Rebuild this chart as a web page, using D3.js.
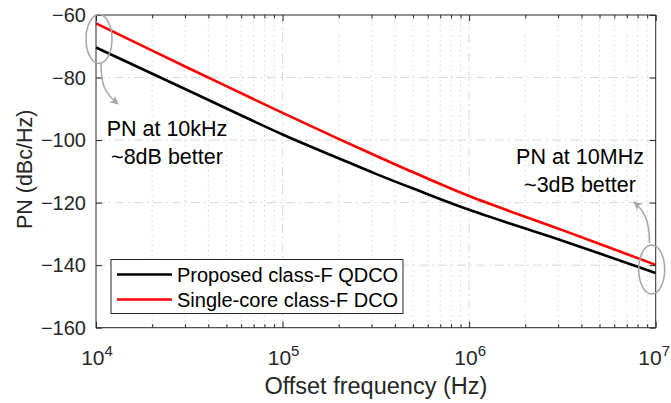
<!DOCTYPE html>
<html>
<head>
<meta charset="utf-8">
<script src="https://cdn.jsdelivr.net/npm/d3@7"></script>
<style>
  body { margin: 0; background: #fff; }
  svg { display: block; font-family: "Liberation Sans", Arial, sans-serif; }
</style>
</head>
<body>
<svg width="671" height="403"></svg>
<script>
// values
var freqs = [10000, 31623, 100000, 199526, 316228, 501187, 1000000, 3162278, 10000000];
var pnProposed = [-70.4, -84.3, -98.2, -105.8, -110.8, -115.5, -122.3, -132.2, -142.5];
var pnSingle = [-62.7, -77.1, -91.3, -99.6, -105.0, -110.3, -117.9, -128.8, -139.9];
var seriesNames = ["Proposed class-F QDCO", "Single-core class-F DCO"];
var seriesColors = ["#000000", "#ff0000"];
var xMajor = [1e4, 1e5, 1e6, 1e7],
    xExponents = ["4", "5", "6", "7"];
var yTicks = [-60, -80, -100, -120, -140, -160];

var svg = d3.select("svg"),
    margin = {top: 15, right: 15.3, bottom: 75.3, left: 96},
    width = +svg.attr("width"),
    height = +svg.attr("height"),
    x0 = margin.left, x1 = width - margin.right,
    y0 = margin.top, y1 = height - margin.bottom;

var x = d3.scaleLog().domain([1e4, 1e7]).range([x0, x1]),
    y = d3.scaleLinear().domain([-160, -60]).range([y1, y0]);

// minor decade values 2..9
var xMinor = [];
xMajor.slice(0, -1).forEach(function(d) {
    for (var k = 2; k < 10; k++) xMinor.push(d * k);
});

var axisColor = "#262626";

// grid
var grid = svg.append("g");
grid.selectAll(".minorx").data(xMinor).enter().append("line")
    .attr("x1", x).attr("x2", x).attr("y1", y0).attr("y2", y1)
    .attr("stroke", "#d4d4d4").attr("stroke-width", 1)
    .attr("stroke-dasharray", "1.5,3.5");
grid.selectAll(".majorx").data(xMajor.slice(1, -1)).enter().append("line")
    .attr("x1", x).attr("x2", x).attr("y1", y0).attr("y2", y1)
    .attr("stroke", "#d8d8d8").attr("stroke-width", 1)
    .attr("stroke-dasharray", "9,4,2,4");
grid.selectAll(".majory").data(yTicks.slice(1, -1)).enter().append("line")
    .attr("x1", x0).attr("x2", x1).attr("y1", y).attr("y2", y)
    .attr("stroke", "#d8d8d8").attr("stroke-width", 1)
    .attr("stroke-dasharray", "9,4,2,4");

// curves
var line = d3.line()
    .x(function(d) { return x(d[0]); })
    .y(function(d) { return y(d[1]); })
    .curve(d3.curveCatmullRom.alpha(0.5));

[pnProposed, pnSingle].forEach(function(vals, i) {
    svg.append("path")
        .datum(freqs.map(function(f, j) { return [f, vals[j]]; }))
        .attr("fill", "none")
        .attr("stroke", seriesColors[i])
        .attr("stroke-width", 2.6)
        .attr("d", line);
});

// axes with inward ticks on all four sides
function strip(g) { g.select(".domain").remove(); g.selectAll("text").remove(); g.selectAll("line").attr("stroke", axisColor); }

svg.append("g").attr("transform", "translate(0," + y1 + ")")
    .call(d3.axisBottom(x).tickValues(xMajor).tickSize(-6).tickFormat("")).call(strip);
svg.append("g").attr("transform", "translate(0," + y1 + ")")
    .call(d3.axisBottom(x).tickValues(xMinor).tickSize(-3.5).tickFormat("")).call(strip);
svg.append("g").attr("transform", "translate(0," + y0 + ")")
    .call(d3.axisTop(x).tickValues(xMajor).tickSize(-6).tickFormat("")).call(strip);
svg.append("g").attr("transform", "translate(0," + y0 + ")")
    .call(d3.axisTop(x).tickValues(xMinor).tickSize(-3.5).tickFormat("")).call(strip);
svg.append("g").attr("transform", "translate(" + x0 + ",0)")
    .call(d3.axisLeft(y).tickValues(yTicks).tickSize(-6).tickFormat("")).call(strip);
svg.append("g").attr("transform", "translate(" + x1 + ",0)")
    .call(d3.axisRight(y).tickValues(yTicks).tickSize(-6).tickFormat("")).call(strip);

svg.append("rect")
    .attr("x", x0).attr("y", y0).attr("width", x1 - x0).attr("height", y1 - y0)
    .attr("fill", "none").attr("stroke", axisColor).attr("stroke-width", 1);

// tick labels
svg.selectAll(".ylab").data(yTicks).enter().append("text")
    .attr("x", x0 - 10).attr("y", y).attr("dy", "0.35em")
    .attr("text-anchor", "end").attr("fill", axisColor).attr("font-size", 20)
    .text(function(d) { return "\u2212" + Math.abs(d); });

var xl = svg.selectAll(".xlab").data(xMajor).enter().append("text")
    .attr("x", function(d) { return x(d) + 1; }).attr("y", y1 + 37)
    .attr("text-anchor", "middle").attr("fill", axisColor).attr("font-size", 21);
xl.append("tspan").text("10");
xl.append("tspan").attr("dy", -9).attr("font-size", 15)
    .text(function(d, i) { return xExponents[i]; });
// keep the last label inside the figure
xl.each(function(d) {
    var w = this.getComputedTextLength(), cx = x(d) + 1;
    if (cx + w / 2 > width - 1) d3.select(this).attr("x", width - 1 - w / 2);
});

// axis titles
svg.append("text")
    .attr("x", (x0 + x1) / 2).attr("y", 394)
    .attr("text-anchor", "middle").attr("fill", axisColor).attr("font-size", 23.5)
    .text("Offset frequency (Hz)");
svg.append("text")
    .attr("transform", "translate(32," + ((y0 + y1) / 2 - 2) + ")rotate(-90)")
    .attr("text-anchor", "middle").attr("fill", axisColor).attr("font-size", 21.5)
    .text("PN (dBc/Hz)");

// legend
var legend = svg.append("g").attr("transform", "translate(111,259.5)");
legend.append("rect").attr("width", 292).attr("height", 54)
    .attr("fill", "#fff").attr("stroke", axisColor).attr("stroke-width", 1);
seriesNames.forEach(function(name, i) {
    var ly = 15 + i * 25;
    legend.append("line").attr("x1", 6).attr("x2", 61).attr("y1", ly).attr("y2", ly)
        .attr("stroke", seriesColors[i]).attr("stroke-width", 2.6);
    legend.append("text").attr("x", 66).attr("y", ly).attr("dy", "0.35em")
        .attr("font-size", 20).attr("fill", "#000").text(name);
});

// annotations
var grey = "#a6a6a6";
svg.append("defs").append("marker")
    .attr("id", "head").attr("viewBox", "0 0 10 10").attr("refX", 9).attr("refY", 5)
    .attr("markerWidth", 9).attr("markerHeight", 9).attr("markerUnits", "userSpaceOnUse")
    .attr("orient", "auto")
    .append("path").attr("d", "M0,0L10,5L0,10L3,5z").attr("fill", grey);

var notes = [
    {f: 1e4, pn: -67.7, dx: 3, lines: ["PN at 10kHz", "~8dB better"], tx: 167, ty: 136,
     arrow: "M101,63C101,86 105,93 118,104"},
    {f: 1e7, pn: -141.4, dx: -4, lines: ["PN at 10MHz", "~3dB better"], tx: 580, ty: 164,
     arrow: "M649.5,243C649.5,224 646,212 634,202"}
];
notes.forEach(function(n) {
    svg.append("ellipse")
        .attr("cx", x(n.f) + n.dx).attr("cy", y(n.pn)).attr("rx", 13).attr("ry", 24.5)
        .attr("fill", "none").attr("stroke", grey).attr("stroke-width", 1.5);
    svg.append("path").attr("d", n.arrow)
        .attr("fill", "none").attr("stroke", grey).attr("stroke-width", 1.5)
        .attr("marker-end", "url(#head)");
    n.lines.forEach(function(t, i) {
        svg.append("text").attr("x", n.tx).attr("y", n.ty + i * 28)
            .attr("text-anchor", "middle").attr("font-size", 21.5).attr("fill", "#000")
            .text(t);
    });
});
</script>
</body>
</html>
